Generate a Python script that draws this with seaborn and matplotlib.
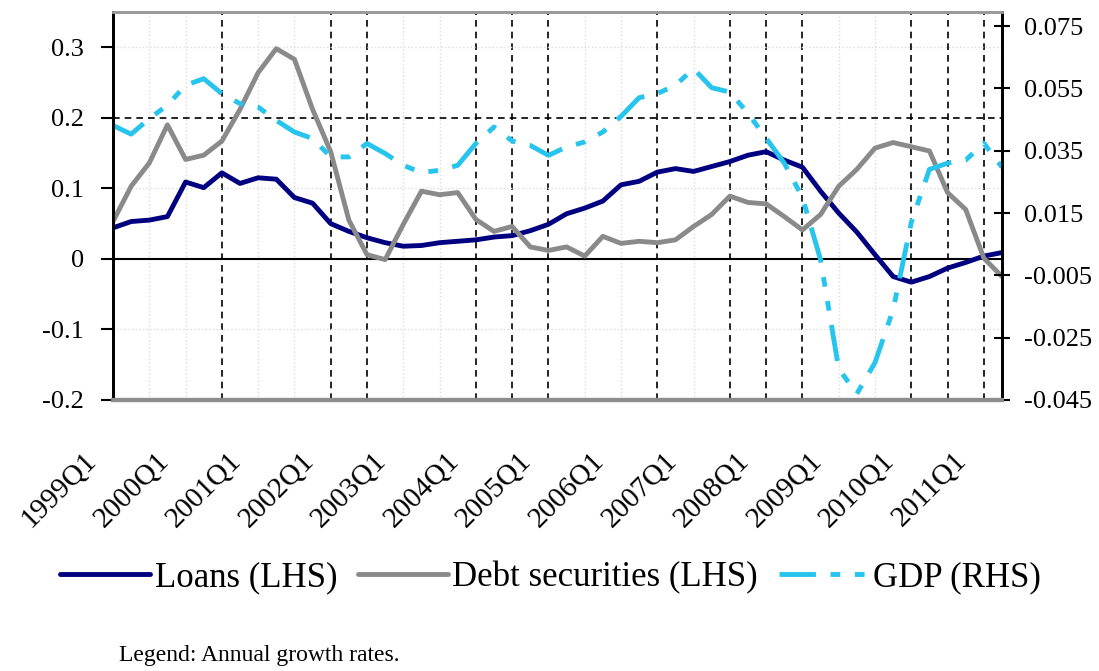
import matplotlib
matplotlib.use("Agg")
import matplotlib.pyplot as plt
import matplotlib.transforms as mtransforms
from matplotlib.lines import Line2D
import numpy as np
import pandas as pd
import seaborn as sns

# quarterly annual growth rates, 1999Q1 .. 2011Q2
loans = [0.044, 0.053, 0.055, 0.060, 0.109, 0.101, 0.122, 0.107, 0.115, 0.113,
         0.087, 0.079, 0.050, 0.039, 0.030, 0.023, 0.018, 0.019, 0.023, 0.025,
         0.027, 0.031, 0.033, 0.040, 0.049, 0.064, 0.072, 0.082, 0.105, 0.110,
         0.123, 0.128, 0.124, 0.131, 0.138, 0.147, 0.152, 0.140, 0.130, 0.096,
         0.065, 0.038, 0.006, -0.025, -0.033, -0.025, -0.013, -0.005, 0.004, 0.009]
debt_securities = [0.053, 0.103, 0.136, 0.190, 0.141, 0.147, 0.167, 0.212, 0.264, 0.298,
                   0.283, 0.212, 0.152, 0.055, 0.006, -0.001, 0.049, 0.096, 0.091, 0.094,
                   0.056, 0.039, 0.046, 0.017, 0.012, 0.017, 0.004, 0.032, 0.022, 0.025,
                   0.023, 0.027, 0.046, 0.063, 0.089, 0.080, 0.078, 0.060, 0.041, 0.063,
                   0.103, 0.127, 0.157, 0.165, 0.159, 0.153, 0.094, 0.070, 0.001, -0.025]
gdp = [0.0431, 0.0403, 0.0453, 0.0496, 0.0560, 0.0581, 0.0533, 0.0501, 0.0490, 0.0447,
       0.0410, 0.0389, 0.0330, 0.0330, 0.0373, 0.0341, 0.0303, 0.0280, 0.0287, 0.0303,
       0.0373, 0.0426, 0.0381, 0.0367, 0.0335, 0.0362, 0.0378, 0.0410, 0.0460, 0.0520,
       0.0533, 0.0560, 0.0613, 0.0552, 0.0538, 0.0470, 0.0390, 0.0310, 0.0200, 0.0000,
       -0.0350, -0.0430, -0.0330, -0.0160, 0.0120, 0.0290, 0.0310, 0.0320, 0.0374, 0.0297]

tick_labels = ["1999Q1", "2000Q1", "2001Q1", "2002Q1", "2003Q1", "2004Q1", "2005Q1",
               "2006Q1", "2007Q1", "2008Q1", "2009Q1", "2010Q1", "2011Q1"]
left_ticks = [-0.2, -0.1, 0, 0.1, 0.2, 0.3]
right_ticks = [-0.045, -0.025, -0.005, 0.015, 0.035, 0.055, 0.075]
legend_labels = ["Loans (LHS)", "Debt securities (LHS)", "GDP (RHS)"]

df = pd.DataFrame({"t": np.arange(len(loans)), "loans": loans,
                   "debt": debt_securities, "gdp": gdp})

sns.set_theme(style="white")
plt.rcParams["font.family"] = ["Liberation Serif", "DejaVu Serif"]
plt.rcParams["text.color"] = "black"
plt.rcParams["xtick.color"] = "black"
plt.rcParams["ytick.color"] = "black"

NAVY = "#000080"
GREY = "#8a8a8a"
CYAN = "#27c4ee"
GDP_DASH = (0, (7.5, 3, 2, 3, 2, 3))

fig = plt.figure(figsize=(10.99, 6.71), dpi=100)
ax = fig.add_axes([113 / 1099, 1 - 400 / 671, (1002 - 113) / 1099, (400 - 12) / 671])
ax2 = ax.twinx()

# grid: some lines come out dark dashed, the rest faint dotted
dark_v = [6, 12, 14, 20, 22, 24, 30, 34, 36, 38, 44, 46, 48]
for i in range(2, len(loans), 2):
    if i in dark_v:
        ax.axvline(i, color="black", lw=1.2, ls=(0, (4, 3)), zorder=1)
    else:
        ax.axvline(i, color="#dcdcdc", lw=1, ls=":", zorder=1)
for v in [0.3, 0.1, -0.1]:
    ax.axhline(v, color="#dcdcdc", lw=1, ls=":", zorder=1)
ax.axhline(0.2, color="black", lw=1.2, ls=(0, (4, 3)), zorder=1)
ax.axhline(0, color="black", lw=1.5, zorder=1)

sns.lineplot(data=df, x="t", y="loans", ax=ax, color=NAVY, lw=3.5, zorder=3)
sns.lineplot(data=df, x="t", y="debt", ax=ax, color=GREY, lw=3.5, zorder=3)
sns.lineplot(data=df, x="t", y="gdp", ax=ax2, color=CYAN, lw=3.5, linestyle=GDP_DASH)

ax.set_xlim(0, len(loans) - 1)
ax.set_ylim(-0.2, 0.35)
ax2.set_ylim(-0.045, 0.0795)

ax.set_yticks(left_ticks)
ax.set_yticklabels(["-0.2", "-0.1", "0", "0.1", "0.2", "0.3"])
ax2.set_yticks(right_ticks)
ax2.set_yticklabels([f"{v:.3f}" for v in right_ticks])
ax.set_xticks(np.arange(0, len(loans), 4))
ax.set_xticklabels(tick_labels, rotation=45, ha="right", va="top")

ax.tick_params(axis="y", left=True, direction="out", length=9, width=1.5,
               color="black", labelsize=19, pad=12)
for tick, v in zip(ax.yaxis.get_major_ticks(), left_ticks):
    if v in (0.3, 0.1, -0.1):
        tick.tick1line.set_color("#dcdcdc")
ax.tick_params(axis="x", length=0, labelsize=21, pad=34)
ax2.tick_params(axis="y", right=True, direction="inout", length=12, width=1.5,
                color="black", labelsize=19, pad=10)
shift = mtransforms.ScaledTranslation(-12 / 100, 0, fig.dpi_scale_trans)
for lab in ax.get_xticklabels():
    lab.set_transform(lab.get_transform() + shift)

ax.set_xlabel("")
ax.set_ylabel("")
ax2.set_ylabel("")
for a in (ax, ax2):
    a.grid(False)
    a.spines["left"].set_color("black")
    a.spines["left"].set_linewidth(2)
    a.spines["right"].set_color("black")
    a.spines["right"].set_linewidth(2)
    a.spines["top"].set_color("#9a9a9a")
    a.spines["top"].set_linewidth(2)
    a.spines["bottom"].set_color("#8c8c8c")
    a.spines["bottom"].set_linewidth(3)

handles = [Line2D([], [], color=NAVY, lw=3.5),
           Line2D([], [], color=GREY, lw=3.5),
           Line2D([], [], color=CYAN, lw=3.5, linestyle=GDP_DASH)]
fig.legend(handles, legend_labels, loc="center", bbox_to_anchor=(0.501, 1 - 578 / 671),
           ncol=3, frameon=False, fontsize=25, handlelength=2.6,
           handletextpad=0.12, columnspacing=0.6)

fig.text(119 / 1099, 1 - 655 / 671, "Legend: Annual growth rates.",
         fontsize=17, ha="left", va="center")

fig.savefig("out.png", dpi=100)
